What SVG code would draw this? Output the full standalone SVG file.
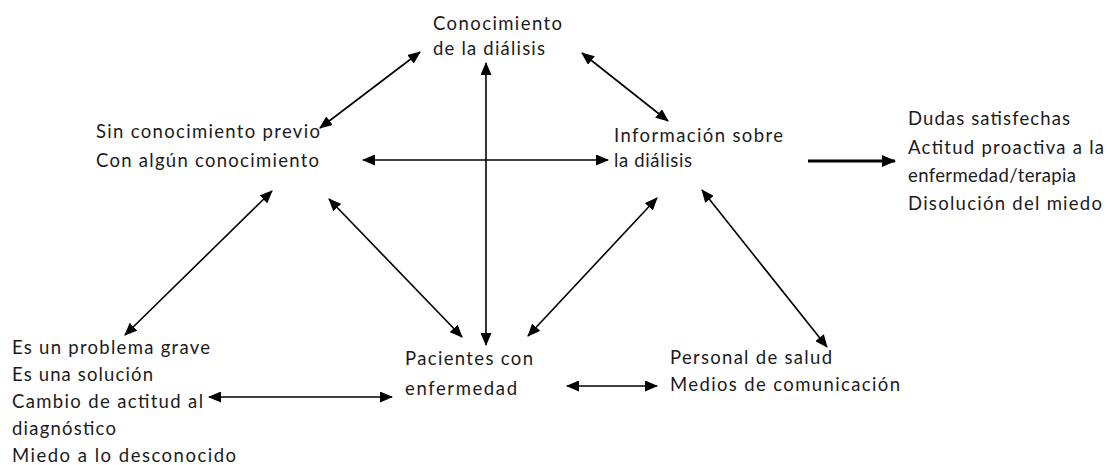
<svg xmlns="http://www.w3.org/2000/svg" width="1107" height="465" viewBox="0 0 1107 465">
  <style>
    text { font-family: Lato, "Liberation Sans", sans-serif; font-size: 18.5px; fill: #1b1b1b; }
    .c { stroke: #000; stroke-width: 1.6; fill: none; marker-start: url(#ah); marker-end: url(#ah); }
    .t { stroke: #000; stroke-width: 3; fill: none; marker-end: url(#ahb); }
  </style>
  <defs>
    <marker id="ah" markerUnits="userSpaceOnUse" markerWidth="13" markerHeight="11" refX="12" refY="5.5" orient="auto-start-reverse" viewBox="0 0 13 11">
      <path d="M0,0 L13,5.5 L0,11 z" fill="#000"/>
    </marker>
    <marker id="ahb" markerUnits="userSpaceOnUse" markerWidth="14" markerHeight="12" refX="13" refY="6" orient="auto" viewBox="0 0 14 12">
      <path d="M0,0 L14,6 L0,12 z" fill="#000"/>
    </marker>
  </defs>

  <g id="connectors">
    <line class="c" x1="320" y1="128" x2="420" y2="52"/>
    <line class="c" x1="582" y1="53" x2="668" y2="121"/>
    <line class="c" x1="486" y1="63" x2="486" y2="345"/>
    <line class="c" x1="363" y1="160" x2="608" y2="160"/>
    <line class="c" x1="272" y1="191" x2="125" y2="335"/>
    <line class="c" x1="329" y1="199" x2="462" y2="337"/>
    <line class="c" x1="657" y1="198" x2="528" y2="336"/>
    <line class="c" x1="702" y1="190" x2="827" y2="347"/>
    <line class="c" x1="209" y1="397" x2="392" y2="397"/>
    <line class="c" x1="567" y1="386" x2="657" y2="386"/>
    <line class="t" x1="808" y1="161" x2="895" y2="161"/>
  </g>

  <g id="conocimiento">
    <text x="433" y="30" textLength="129" lengthAdjust="spacing">Conocimiento</text>
    <text x="433" y="55" textLength="112" lengthAdjust="spacing">de la diálisis</text>
  </g>
  <g id="sin-conocimiento">
    <text x="96" y="138" textLength="224" lengthAdjust="spacing">Sin conocimiento previo</text>
    <text x="96" y="167" textLength="223" lengthAdjust="spacing">Con algún conocimiento</text>
  </g>
  <g id="informacion">
    <text x="614" y="142" textLength="169" lengthAdjust="spacing">Información sobre</text>
    <text x="614" y="167" textLength="78" lengthAdjust="spacing">la diálisis</text>
  </g>
  <g id="resultados">
    <text x="908" y="125" textLength="162" lengthAdjust="spacing">Dudas satisfechas</text>
    <text x="908" y="154" textLength="196" lengthAdjust="spacing">Actitud proactiva a la</text>
    <text x="908" y="182" textLength="168" lengthAdjust="spacing">enfermedad/terapia</text>
    <text x="908" y="210" textLength="194" lengthAdjust="spacing">Disolución del miedo</text>
  </g>
  <g id="percepcion">
    <text x="12" y="354" textLength="198" lengthAdjust="spacing">Es un problema grave</text>
    <text x="12" y="381" textLength="141" lengthAdjust="spacing">Es una solución</text>
    <text x="12" y="408" textLength="191" lengthAdjust="spacing">Cambio de actitud al</text>
    <text x="12" y="435" textLength="104" lengthAdjust="spacing">diagnóstico</text>
    <text x="12" y="462" textLength="224" lengthAdjust="spacing">Miedo a lo desconocido</text>
  </g>
  <g id="pacientes">
    <text x="405" y="365" textLength="128" lengthAdjust="spacing">Pacientes con</text>
    <text x="405" y="395" textLength="112" lengthAdjust="spacing">enfermedad</text>
  </g>
  <g id="fuentes">
    <text x="670" y="364" textLength="162" lengthAdjust="spacing">Personal de salud</text>
    <text x="670" y="391" textLength="230" lengthAdjust="spacing">Medios de comunicación</text>
  </g>
</svg>
